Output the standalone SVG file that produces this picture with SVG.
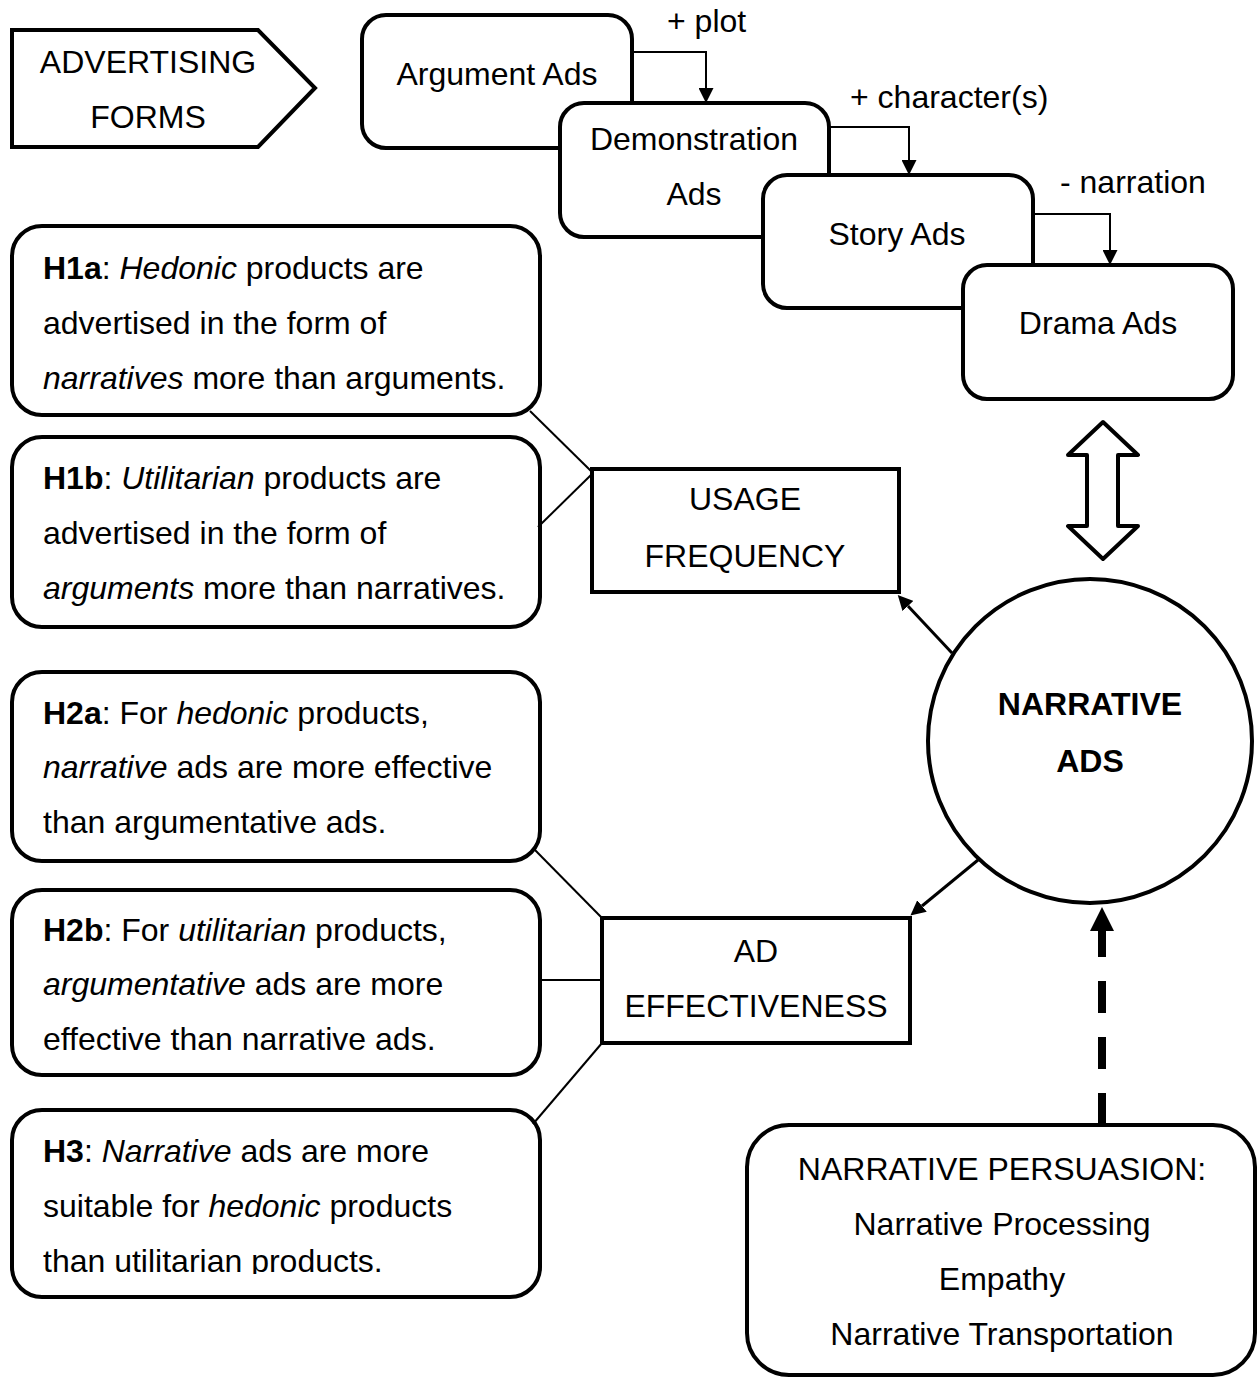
<svg xmlns="http://www.w3.org/2000/svg" width="1257" height="1378" viewBox="0 0 1257 1378">
<style>
text{font-family:"Liberation Sans",Arial,sans-serif;font-size:32px;fill:#000}
.c{text-anchor:middle}
.b{font-weight:bold}
.i{font-style:italic}
.box{fill:#fff;stroke:#000;stroke-width:4}
.thin{fill:none;stroke:#000;stroke-width:2}
.mid{fill:none;stroke:#000;stroke-width:3}
</style>
<defs>
<marker id="ah" viewBox="0 0 10 10" refX="0" refY="5" markerWidth="15" markerHeight="15" markerUnits="userSpaceOnUse" orient="auto"><path d="M0,0 L10,5 L0,10 z" fill="#000"/></marker>
<marker id="ahb" viewBox="0 0 10 10" refX="0" refY="5" markerWidth="24" markerHeight="24" markerUnits="userSpaceOnUse" orient="auto"><path d="M0,0 L10,5 L0,10 z" fill="#000"/></marker>
<clipPath id="h3clip"><rect x="0" y="1100" width="560" height="174"/></clipPath>
</defs>

<g id="advertising-forms">
<polygon class="box" points="12,30 258,30 315,88 258,147 12,147"/>
<text class="c" x="148" y="73">ADVERTISING</text>
<text class="c" x="148" y="128">FORMS</text>
</g>

<g id="argument-ads">
<rect class="box" x="362" y="15" width="270" height="133" rx="24"/>
<text class="c" x="497" y="85">Argument Ads</text>
</g>
<g id="demonstration-ads">
<rect class="box" x="560" y="103" width="269" height="134" rx="24"/>
<text class="c" x="694" y="150">Demonstration</text>
<text class="c" x="694" y="205">Ads</text>
</g>
<g id="story-ads">
<rect class="box" x="763" y="175" width="270" height="133" rx="24"/>
<text class="c" x="897" y="245">Story Ads</text>
</g>
<g id="drama-ads">
<rect class="box" x="963" y="265" width="270" height="134" rx="24"/>
<text class="c" x="1098" y="334">Drama Ads</text>
</g>

<g id="double-arrow">
<polygon class="box" stroke-linejoin="round" points="1103,422 1138,455 1118,455 1118,526 1138,526 1103,559 1068,526 1087,526 1087,455 1068,455"/>
</g>

<g id="h1a">
<rect class="box" x="12" y="226" width="528" height="189" rx="30"/>
<text x="43" y="279"><tspan class="b">H1a</tspan>: <tspan class="i">Hedonic</tspan> products are</text>
<text x="43" y="334">advertised in the form of</text>
<text x="43" y="389"><tspan class="i">narratives</tspan> more than arguments.</text>
</g>
<g id="h1b">
<rect class="box" x="12" y="437" width="528" height="190" rx="30"/>
<text x="43" y="489"><tspan class="b">H1b</tspan>: <tspan class="i">Utilitarian</tspan> products are</text>
<text x="43" y="544">advertised in the form of</text>
<text x="43" y="599"><tspan class="i">arguments</tspan> more than narratives.</text>
</g>
<g id="h2a">
<rect class="box" x="12" y="672" width="528" height="189" rx="30"/>
<text x="43" y="724"><tspan class="b">H2a</tspan>: For <tspan class="i">hedonic</tspan> products,</text>
<text x="43" y="778"><tspan class="i">narrative</tspan> ads are more effective</text>
<text x="43" y="833">than argumentative ads.</text>
</g>
<g id="h2b">
<rect class="box" x="12" y="890" width="528" height="185" rx="30"/>
<text x="43" y="941"><tspan class="b">H2b</tspan>: For <tspan class="i">utilitarian</tspan> products,</text>
<text x="43" y="995"><tspan class="i">argumentative</tspan> ads are more</text>
<text x="43" y="1050">effective than narrative ads.</text>
</g>
<g id="h3">
<rect class="box" x="12" y="1110" width="528" height="187" rx="30"/>
<text x="43" y="1162"><tspan class="b">H3</tspan>: <tspan class="i">Narrative</tspan> ads are more</text>
<text x="43" y="1217">suitable for <tspan class="i">hedonic</tspan> products</text>
<text x="43" y="1272" clip-path="url(#h3clip)">than utilitarian products.</text>
</g>

<g id="usage-frequency">
<rect class="box" x="592" y="469" width="307" height="123"/>
<text class="c" x="745" y="510">USAGE</text>
<text class="c" x="745" y="567">FREQUENCY</text>
</g>
<g id="ad-effectiveness">
<rect class="box" x="602" y="918" width="308" height="125"/>
<text class="c" x="756" y="962">AD</text>
<text class="c" x="756" y="1017">EFFECTIVENESS</text>
</g>

<g id="narrative-ads">
<circle class="box" cx="1090" cy="741" r="162"/>
<text class="c b" x="1090" y="715">NARRATIVE</text>
<text class="c b" x="1090" y="772">ADS</text>
</g>

<g id="narrative-persuasion">
<rect class="box" x="747" y="1125" width="508" height="250" rx="42"/>
<text class="c" x="1002" y="1180">NARRATIVE PERSUASION:</text>
<text class="c" x="1002" y="1235">Narrative Processing</text>
<text class="c" x="1002" y="1290">Empathy</text>
<text class="c" x="1002" y="1345">Narrative Transportation</text>
</g>

<g id="connectors">
<path class="thin" d="M632,52 H706 V88" marker-end="url(#ah)"/>
<text x="667" y="32">+ plot</text>
<path class="thin" d="M829,127 H909 V160" marker-end="url(#ah)"/>
<text x="850" y="108">+ character(s)</text>
<path class="thin" d="M1033,214 H1110 V250" marker-end="url(#ah)"/>
<text x="1060" y="193">- narration</text>

<line class="thin" x1="530" y1="411" x2="592" y2="472"/>
<line class="thin" x1="538" y1="527" x2="592" y2="474"/>
<line class="thin" x1="533" y1="848" x2="602" y2="918"/>
<line class="thin" x1="540" y1="980" x2="602" y2="980"/>
<line class="thin" x1="533" y1="1124" x2="602" y2="1043"/>

<line class="mid" x1="952" y1="653" x2="908" y2="606" marker-end="url(#ah)"/>
<line class="mid" x1="978" y1="860" x2="922" y2="906" marker-end="url(#ah)"/>

<line fill="none" stroke="#000" stroke-width="8" stroke-dasharray="32 24" x1="1102" y1="1125" x2="1102" y2="931" marker-end="url(#ahb)"/>
</g>
</svg>
